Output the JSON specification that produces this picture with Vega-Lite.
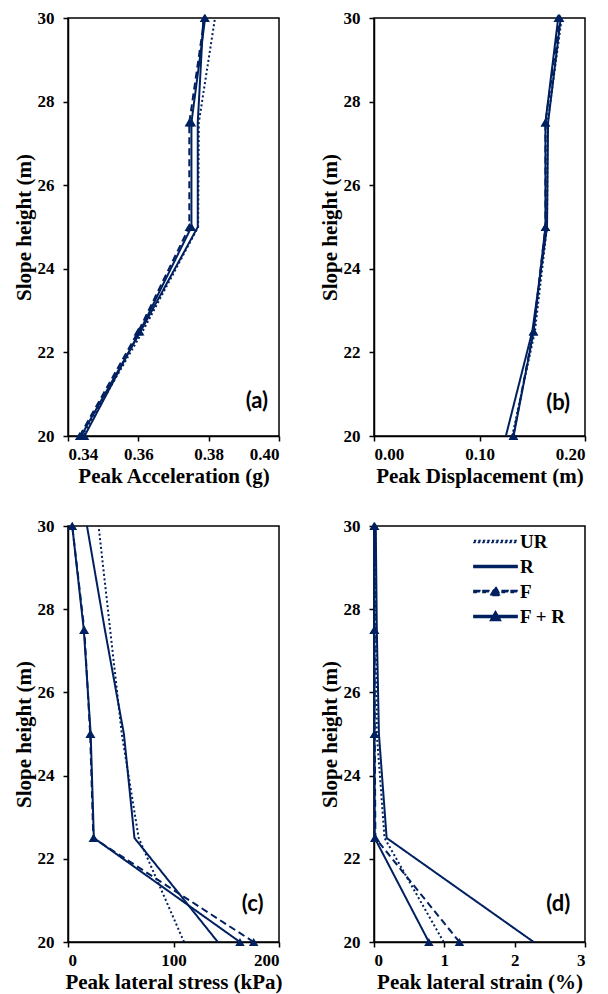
{
  "$schema": "https://vega.github.io/schema/vega-lite/v6.json",
  "background": "white",
  "padding": {"left": 12, "top": 8, "right": 5, "bottom": 5},
  "columns": 2,
  "bounds": "flush",
  "spacing": {"row": 90, "column": 95},
  "resolve": {"scale": {"strokeDash": "independent", "shape": "independent"}},
  "config": {
    "view": {"stroke": "#000", "strokeWidth": 1.5},
    "axis": {
      "grid": false, "domainColor": "#000", "domainWidth": 1.5,
      "tickColor": "#000", "tickSize": 5, "tickWidth": 1.5,
      "labelFont": "Liberation Serif", "labelFontWeight": "bold", "labelFontSize": 17, "labelColor": "#000", "labelPadding": 5,
      "titleFont": "Liberation Serif", "titleFontWeight": "bold", "titleFontSize": 21, "titleColor": "#000", "titlePadding": 3
    },
    "axisY": {"labelPadding": 9, "titlePadding": 3}
  },
  "data": {"values": [
    {"p": "a", "s": "UR", "h": 20, "v": 0.3440}, {"p": "a", "s": "UR", "h": 22.5, "v": 0.3612}, {"p": "a", "s": "UR", "h": 25, "v": 0.3770}, {"p": "a", "s": "UR", "h": 27.5, "v": 0.3772}, {"p": "a", "s": "UR", "h": 30, "v": 0.3818},
    {"p": "a", "s": "R", "h": 20, "v": 0.3437}, {"p": "a", "s": "R", "h": 22.5, "v": 0.3606}, {"p": "a", "s": "R", "h": 25, "v": 0.3769}, {"p": "a", "s": "R", "h": 27.5, "v": 0.3769}, {"p": "a", "s": "R", "h": 30, "v": 0.3785},
    {"p": "a", "s": "F", "h": 20, "v": 0.3433}, {"p": "a", "s": "F", "h": 22.5, "v": 0.3600}, {"p": "a", "s": "F", "h": 25, "v": 0.3745}, {"p": "a", "s": "F", "h": 27.5, "v": 0.3745}, {"p": "a", "s": "F", "h": 30, "v": 0.3788},
    {"p": "a", "s": "F + R", "h": 20, "v": 0.3447}, {"p": "a", "s": "F + R", "h": 22.5, "v": 0.3604}, {"p": "a", "s": "F + R", "h": 25, "v": 0.3751}, {"p": "a", "s": "F + R", "h": 27.5, "v": 0.3751}, {"p": "a", "s": "F + R", "h": 30, "v": 0.3790},
    {"p": "b", "s": "UR", "h": 20, "v": 0.131}, {"p": "b", "s": "UR", "h": 22.5, "v": 0.1525}, {"p": "b", "s": "UR", "h": 25, "v": 0.164}, {"p": "b", "s": "UR", "h": 27.5, "v": 0.1645}, {"p": "b", "s": "UR", "h": 30, "v": 0.178},
    {"p": "b", "s": "R", "h": 20, "v": 0.125}, {"p": "b", "s": "R", "h": 22.5, "v": 0.150}, {"p": "b", "s": "R", "h": 25, "v": 0.164}, {"p": "b", "s": "R", "h": 27.5, "v": 0.165}, {"p": "b", "s": "R", "h": 30, "v": 0.177},
    {"p": "b", "s": "F", "h": 20, "v": 0.132}, {"p": "b", "s": "F", "h": 22.5, "v": 0.151}, {"p": "b", "s": "F", "h": 25, "v": 0.1625}, {"p": "b", "s": "F", "h": 27.5, "v": 0.1625}, {"p": "b", "s": "F", "h": 30, "v": 0.176},
    {"p": "b", "s": "F + R", "h": 20, "v": 0.1323}, {"p": "b", "s": "F + R", "h": 22.5, "v": 0.1513}, {"p": "b", "s": "F + R", "h": 25, "v": 0.1625}, {"p": "b", "s": "F + R", "h": 27.5, "v": 0.1625}, {"p": "b", "s": "F + R", "h": 30, "v": 0.1746},
    {"p": "c", "s": "UR", "h": 20, "v": 110}, {"p": "c", "s": "UR", "h": 22.5, "v": 67}, {"p": "c", "s": "UR", "h": 25, "v": 51}, {"p": "c", "s": "UR", "h": 27.5, "v": 40}, {"p": "c", "s": "UR", "h": 30, "v": 29},
    {"p": "c", "s": "R", "h": 20, "v": 142}, {"p": "c", "s": "R", "h": 22.5, "v": 63}, {"p": "c", "s": "R", "h": 25, "v": 53}, {"p": "c", "s": "R", "h": 27.5, "v": 35}, {"p": "c", "s": "R", "h": 30, "v": 18},
    {"p": "c", "s": "F", "h": 20, "v": 176}, {"p": "c", "s": "F", "h": 22.5, "v": 24}, {"p": "c", "s": "F", "h": 25, "v": 21}, {"p": "c", "s": "F", "h": 27.5, "v": 15.5}, {"p": "c", "s": "F", "h": 30, "v": 4},
    {"p": "c", "s": "F + R", "h": 20, "v": 163}, {"p": "c", "s": "F + R", "h": 22.5, "v": 24.5}, {"p": "c", "s": "F + R", "h": 25, "v": 21.5}, {"p": "c", "s": "F + R", "h": 27.5, "v": 15}, {"p": "c", "s": "F + R", "h": 30, "v": 4},
    {"p": "d", "s": "UR", "h": 20, "v": 0.99}, {"p": "d", "s": "UR", "h": 22.5, "v": 0.15}, {"p": "d", "s": "UR", "h": 25, "v": 0.04}, {"p": "d", "s": "UR", "h": 27.5, "v": 0.03}, {"p": "d", "s": "UR", "h": 30, "v": 0.02},
    {"p": "d", "s": "R", "h": 20, "v": 2.27}, {"p": "d", "s": "R", "h": 22.5, "v": 0.18}, {"p": "d", "s": "R", "h": 25, "v": 0.07}, {"p": "d", "s": "R", "h": 27.5, "v": 0.04}, {"p": "d", "s": "R", "h": 30, "v": 0.025},
    {"p": "d", "s": "F", "h": 20, "v": 1.215}, {"p": "d", "s": "F", "h": 22.5, "v": 0.02}, {"p": "d", "s": "F", "h": 25, "v": 0.01}, {"p": "d", "s": "F", "h": 27.5, "v": 0.01}, {"p": "d", "s": "F", "h": 30, "v": 0.01},
    {"p": "d", "s": "F + R", "h": 20, "v": 0.78}, {"p": "d", "s": "F + R", "h": 22.5, "v": 0.01}, {"p": "d", "s": "F + R", "h": 25, "v": 0.005}, {"p": "d", "s": "F + R", "h": 27.5, "v": 0.0}, {"p": "d", "s": "F + R", "h": 30, "v": 0.0}
  ]},
  "concat": [
    {
      "width": 211, "height": 418,
      "layer": [
        {
          "transform": [{"filter": "datum.p == 'a'"}],
          "mark": {"type": "line", "color": "#002060", "strokeWidth": 2},
          "encoding": {
            "x": {"field": "v", "type": "quantitative", "title": "Peak Acceleration (g)", "scale": {"domain": [0.34, 0.40], "nice": false, "zero": false}, "axis": {"values": [0.34, 0.36, 0.38, 0.40], "format": ".2f"}},
            "y": {"field": "h", "type": "quantitative", "title": "Slope height (m)", "scale": {"domain": [20, 30], "nice": false, "zero": false}, "axis": {"values": [20, 22, 24, 26, 28, 30], "format": "d"}},
            "detail": {"field": "s"},
            "order": {"field": "h"},
            "strokeDash": {"field": "s", "type": "nominal", "scale": {"domain": ["UR", "R", "F", "F + R"], "range": [[2, 2.5], [1, 0], [7, 4], [1, 0]]}, "legend": null}
          }
        },
        {
          "transform": [{"filter": "datum.p == 'a' && (datum.s == 'F' || datum.s == 'F + R')"}],
          "mark": {"type": "point", "shape": "triangle-up", "filled": true, "color": "#002060", "size": 90, "opacity": 1},
          "encoding": {
            "x": {"field": "v", "type": "quantitative", "title": "Peak Acceleration (g)"},
            "y": {"field": "h", "type": "quantitative", "title": "Slope height (m)"}
          }
        },
        {
          "data": {"values": [{"t": "(a)"}]},
          "mark": {"type": "text", "font": "Lato", "fontWeight": "bold", "fontSize": 22, "color": "#000"},
          "encoding": {
            "x": {"datum": 0.3937, "type": "quantitative", "title": "Peak Acceleration (g)"},
            "y": {"datum": 20.83, "type": "quantitative", "title": "Slope height (m)"},
            "text": {"field": "t"}
          }
        }
      ]
    },
    {
      "width": 211, "height": 418,
      "layer": [
        {
          "transform": [{"filter": "datum.p == 'b'"}],
          "mark": {"type": "line", "color": "#002060", "strokeWidth": 2},
          "encoding": {
            "x": {"field": "v", "type": "quantitative", "title": "Peak Displacement (m)", "scale": {"domain": [0, 0.2], "nice": false, "zero": false}, "axis": {"values": [0, 0.1, 0.2], "format": ".2f"}},
            "y": {"field": "h", "type": "quantitative", "title": "Slope height (m)", "scale": {"domain": [20, 30], "nice": false, "zero": false}, "axis": {"values": [20, 22, 24, 26, 28, 30], "format": "d"}},
            "detail": {"field": "s"},
            "order": {"field": "h"},
            "strokeDash": {"field": "s", "type": "nominal", "scale": {"domain": ["UR", "R", "F", "F + R"], "range": [[2, 2.5], [1, 0], [7, 4], [1, 0]]}, "legend": null}
          }
        },
        {
          "transform": [{"filter": "datum.p == 'b' && (datum.s == 'F' || datum.s == 'F + R')"}],
          "mark": {"type": "point", "shape": "triangle-up", "filled": true, "color": "#002060", "size": 90, "opacity": 1},
          "encoding": {
            "x": {"field": "v", "type": "quantitative", "title": "Peak Displacement (m)"},
            "y": {"field": "h", "type": "quantitative", "title": "Slope height (m)"}
          }
        },
        {
          "data": {"values": [{"t": "(b)"}]},
          "mark": {"type": "text", "font": "Lato", "fontWeight": "bold", "fontSize": 22, "color": "#000"},
          "encoding": {
            "x": {"datum": 0.1745, "type": "quantitative", "title": "Peak Displacement (m)"},
            "y": {"datum": 20.8, "type": "quantitative", "title": "Slope height (m)"},
            "text": {"field": "t"}
          }
        }
      ]
    },
    {
      "width": 211, "height": 416,
      "layer": [
        {
          "transform": [{"filter": "datum.p == 'c'"}],
          "mark": {"type": "line", "color": "#002060", "strokeWidth": 2},
          "encoding": {
            "x": {"field": "v", "type": "quantitative", "title": "Peak lateral stress (kPa)", "scale": {"domain": [0, 200], "nice": false, "zero": false}, "axis": {"values": [0, 100, 200], "format": "d"}},
            "y": {"field": "h", "type": "quantitative", "title": "Slope height (m)", "scale": {"domain": [20, 30], "nice": false, "zero": false}, "axis": {"values": [20, 22, 24, 26, 28, 30], "format": "d"}},
            "detail": {"field": "s"},
            "order": {"field": "h"},
            "strokeDash": {"field": "s", "type": "nominal", "scale": {"domain": ["UR", "R", "F", "F + R"], "range": [[2, 2.5], [1, 0], [7, 4], [1, 0]]}, "legend": null}
          }
        },
        {
          "transform": [{"filter": "datum.p == 'c' && (datum.s == 'F' || datum.s == 'F + R')"}],
          "mark": {"type": "point", "shape": "triangle-up", "filled": true, "color": "#002060", "size": 90, "opacity": 1},
          "encoding": {
            "x": {"field": "v", "type": "quantitative", "title": "Peak lateral stress (kPa)"},
            "y": {"field": "h", "type": "quantitative", "title": "Slope height (m)"}
          }
        },
        {
          "data": {"values": [{"t": "(c)"}]},
          "mark": {"type": "text", "font": "Lato", "fontWeight": "bold", "fontSize": 22, "color": "#000"},
          "encoding": {
            "x": {"datum": 175, "type": "quantitative", "title": "Peak lateral stress (kPa)"},
            "y": {"datum": 20.92, "type": "quantitative", "title": "Slope height (m)"},
            "text": {"field": "t"}
          }
        }
      ]
    },
    {
      "width": 211, "height": 416,
      "layer": [
        {
          "transform": [{"filter": "datum.p == 'd'"}],
          "mark": {"type": "line", "color": "#002060", "strokeWidth": 2},
          "encoding": {
            "x": {"field": "v", "type": "quantitative", "title": "Peak lateral strain (%)", "scale": {"domain": [0, 3], "nice": false, "zero": false}, "axis": {"values": [0, 1, 2, 3], "format": "d"}},
            "y": {"field": "h", "type": "quantitative", "title": "Slope height (m)", "scale": {"domain": [20, 30], "nice": false, "zero": false}, "axis": {"values": [20, 22, 24, 26, 28, 30], "format": "d"}},
            "detail": {"field": "s"},
            "order": {"field": "h"},
            "strokeDash": {"field": "s", "type": "nominal", "scale": {"domain": ["UR", "R", "F", "F + R"], "range": [[2, 2.5], [1, 0], [7, 4], [1, 0]]},
              "legend": {"title": null, "orient": "none", "legendX": 112, "legendY": 6, "padding": 0, "labelFont": "Liberation Serif", "labelFontWeight": "bold", "labelFontSize": 19, "labelColor": "#000", "labelOffset": 15, "rowPadding": 5, "symbolSize": 144, "symbolFillColor": "#002060"}}
          }
        },
        {
          "transform": [{"filter": "datum.p == 'd' && (datum.s == 'F' || datum.s == 'F + R')"}],
          "mark": {"type": "point", "shape": "triangle-up", "filled": true, "color": "#002060", "size": 90, "opacity": 1},
          "encoding": {
            "x": {"field": "v", "type": "quantitative", "title": "Peak lateral strain (%)"},
            "y": {"field": "h", "type": "quantitative", "title": "Slope height (m)"}
          }
        },
        {
          "data": {"values": [{"t": "(d)"}]},
          "mark": {"type": "text", "font": "Lato", "fontWeight": "bold", "fontSize": 22, "color": "#000"},
          "encoding": {
            "x": {"datum": 2.62, "type": "quantitative", "title": "Peak lateral strain (%)"},
            "y": {"datum": 20.92, "type": "quantitative", "title": "Slope height (m)"},
            "text": {"field": "t"}
          }
        },
        {
          "transform": [{"filter": "datum.p == 'none'"}],
          "mark": {"type": "point", "filled": true, "color": "#002060", "size": 144, "opacity": 1},
          "encoding": {
            "x": {"field": "v", "type": "quantitative", "title": "Peak lateral strain (%)"},
            "y": {"field": "h", "type": "quantitative", "title": "Slope height (m)"},
            "shape": {"field": "s", "type": "nominal", "scale": {"domain": ["UR", "R", "F", "F + R"], "range": [
              "M-3.6,-0.17h0.33v0.34h-0.33zm0.75,0h0.33v0.34h-0.33zm0.75,0h0.33v0.34h-0.33zm0.75,0h0.33v0.34h-0.33zm0.75,0h0.33v0.34h-0.33zm0.75,0h0.33v0.34h-0.33zm0.75,0h0.33v0.34h-0.33zm0.75,0h0.33v0.34h-0.33zm0.75,0h0.33v0.34h-0.33zm0.75,0h0.33v0.34h-0.33z",
              "M-3.6,-0.17H3.6V0.17H-3.6Z",
              "M-3.6,-0.17h1v0.34h-1zM-2.1,-0.17h1v0.34h-1zM1.1,-0.17h1v0.34h-1zM2.6,-0.17h1v0.34h-1zM-0.85,0.65L0,-0.85L0.85,0.65Z",
              "M-3.6,-0.17H3.6V0.17H-3.6ZM-0.85,0.65L0,-0.85L0.85,0.65Z"
            ]},
              "legend": {"title": null, "orient": "none", "legendX": 112, "legendY": 6, "padding": 0, "labelFont": "Liberation Serif", "labelFontWeight": "bold", "labelFontSize": 19, "labelColor": "#000", "labelOffset": 15, "rowPadding": 5, "symbolSize": 144, "symbolFillColor": "#002060"}},
            "strokeDash": {"field": "s", "type": "nominal", "scale": {"domain": ["UR", "R", "F", "F + R"], "range": [[2, 2.5], [1, 0], [7, 4], [1, 0]]},
              "legend": {"title": null, "orient": "none", "legendX": 112, "legendY": 6, "padding": 0, "labelFont": "Liberation Serif", "labelFontWeight": "bold", "labelFontSize": 19, "labelColor": "#000", "labelOffset": 15, "rowPadding": 5, "symbolSize": 144, "symbolFillColor": "#002060"}}
          }
        }
      ]
    }
  ]
}
